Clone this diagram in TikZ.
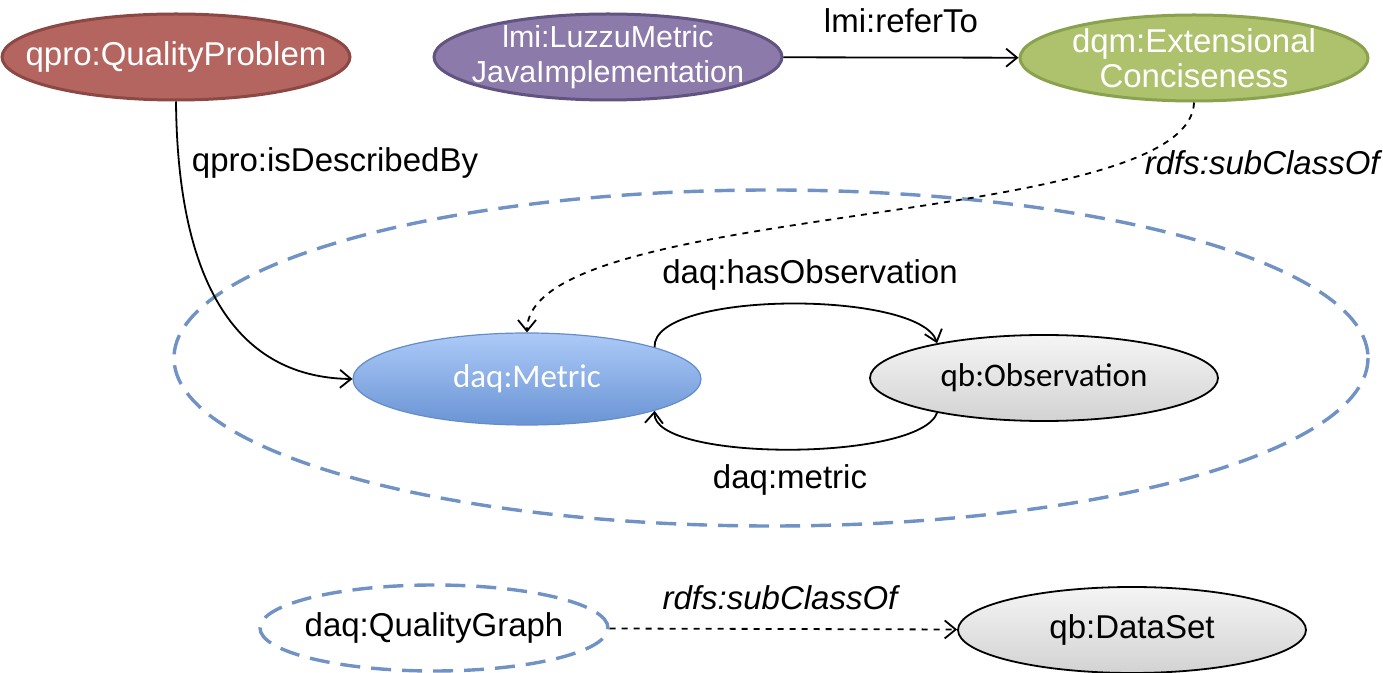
\documentclass[tikz,border=0pt]{standalone}
\usepackage{fontspec}
\setmainfont{Liberation Sans}
\newfontfamily\calibri{Carlito}
\usetikzlibrary{shapes.geometric,arrows.meta}

\definecolor{probred}{RGB}{181,101,96}
\definecolor{probredline}{RGB}{140,72,68}
\definecolor{implviolet}{RGB}{139,122,170}
\definecolor{implvioletline}{RGB}{98,84,128}
\definecolor{dqmgreen}{RGB}{174,194,110}
\definecolor{dqmgreenline}{RGB}{138,162,78}
\definecolor{metrictop}{RGB}{172,202,248}
\definecolor{metricbot}{RGB}{106,148,212}
\definecolor{metricline}{RGB}{100,140,200}
\definecolor{groupblue}{RGB}{112,146,196}

\begin{document}
\begin{tikzpicture}[x=0.5pt,y=-0.5pt,
    >={Straight Barb[length=5.5pt,width=9pt]},
    cls/.style={ellipse, inner xsep=-40pt, inner ysep=-20pt, minimum width=174pt, minimum height=43pt,
        align=center, font=\fontsize{16.5}{17.5}\selectfont},
    coloured/.style={cls, text=white, line width=1.5pt},
    greyed/.style={cls, draw=black, line width=0.9pt, top color=gray!8, bottom color=gray!35,
        font=\calibri\fontsize{16.5}{18}\selectfont},
    lbl/.style={font=\fontsize{16.5}{18}\selectfont, inner sep=1pt},
    edge/.style={->, line width=0.9pt},
    group/.style={draw=groupblue, line width=1.7pt, dash pattern=on 10pt off 5.5pt}]

    \useasboundingbox (0,0) rectangle (1383,673);

    % Top row
    \node[coloured, fill=probred, draw=probredline] (problem) at (176,57) {qpro:QualityProblem};
    \node[coloured, fill=implviolet, draw=implvioletline, font=\fontsize{15.2}{17.5}\selectfont]
        (impl) at (608,57) {lmi:LuzzuMetric\\JavaImplementation};
    \node[coloured, fill=dqmgreen, draw=dqmgreenline] (concise) at (1194,58)
        {dqm:Extensional\\Conciseness};

    % Group of metric and observation
    \draw[group] (771,358) ellipse [x radius=597, y radius=168];
    \node[cls, top color=metrictop, bottom color=metricbot, draw=metricline, line width=0.6pt,
        text=white, font=\calibri\fontsize{16.5}{18}\selectfont, minimum height=46pt]
        (metric) at (527,379) {daq:Metric};
    \node[greyed] (obs) at (1044,378) {qb:Observation};

    % Bottom row
    \node[cls, group] (qgraph) at (434,628) {daq:QualityGraph};
    \node[greyed, font=\fontsize{16.5}{18}\selectfont] (dataset) at (1132,630) {qb:DataSet};

    % Draw connectors
    \draw[edge] (impl) -- (concise)
        node[lbl, midway, above=11pt] (refer) {lmi:referTo};

    \draw[edge] (problem.south) .. controls (178,330) and (270,378) .. (metric.west);
    \node[lbl] (described) at (335,163) {qpro:isDescribedBy};

    \draw[edge, dashed] (concise.south) .. controls (1190,230) and (527,200) .. (metric.north);
    \node[lbl, anchor=east, font=\itshape\fontsize{16.5}{18}\selectfont] (sub1) at (1382,163) {rdfs:subClassOf};

    \draw[edge] (metric.14) .. controls (652,290) and (920,290) .. (obs.162);
    \node[lbl] (hasobs) at (810,275) {daq:hasObservation};

    \draw[edge] (obs.-162) .. controls (920,462) and (652,462) .. (metric.-14);
    \node[lbl] (metriclbl) at (790,480) {daq:metric};

    \draw[edge, dashed] (qgraph) -- (dataset);
    \node[lbl, font=\itshape\fontsize{16.5}{18}\selectfont] (sub2) at (780,598) {rdfs:subClassOf};

\end{tikzpicture}
\end{document}
